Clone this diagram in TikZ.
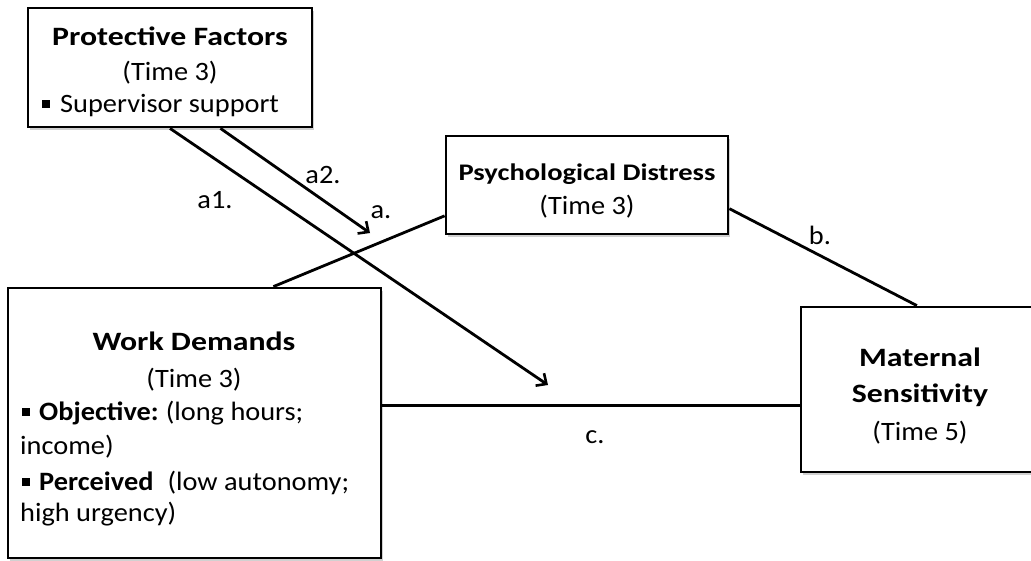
\documentclass[tikz,border=0pt]{standalone}
\usepackage{fontspec}
\setmainfont{Carlito}[FakeStretch=1.07]
\newfontfamily\titlefam{Carlito}[FakeStretch=1.2]
\usetikzlibrary{arrows.meta,calc,shadows}
\newcommand\sqbullet{\raisebox{4pt}{\rule{8pt}{8pt}}}
\begin{document}
\begin{tikzpicture}[x=1pt,y=-1pt,
  box/.style={draw, line width=2.8pt, fill=white, inner sep=0pt,
    drop shadow={shadow xshift=2pt, shadow yshift=-2.5pt, opacity=0.3, fill=black!60}},
  txt/.style={font=\fontsize{26.5}{30}\selectfont, inner sep=0pt, anchor=base},
  btxt/.style={txt, font=\fontsize{26.5}{30}\selectfont\titlefam\bfseries},
  ltxt/.style={txt, anchor=base west},
  lab/.style={font=\fontsize{26.5}{30}\selectfont, inner sep=0pt},
  conn/.style={line width=2.8pt},
  arr/.style={conn, -{Straight Barb[length=8pt,width=15pt,line width=2.6pt]}}
]
\useasboundingbox (0,0) rectangle (1031,560);
\clip (0,0) rectangle (1031,560);
\fill[white] (0,0) rectangle (1031,560);

% boxes
\node[box, minimum width=284pt, minimum height=119pt] (PF) at (170,67.5) {};
\node[box, minimum width=282pt, minimum height=98pt] (PD) at (587,185) {};
\node[box, minimum width=373pt, minimum height=270pt] (WD) at (194.5,423) {};
\node[box, minimum width=238pt, minimum height=165pt] (MS) at (920,389.5) {};

% texts
\node[btxt] (pf1) at (170,45.5) {Protective Factors};
\node[txt] (pf2) at (170,80) {(Time 3)};
\node[ltxt] (pf3) at (42,112) {\sqbullet\hspace{10pt}Supervisor support};

\node[btxt, font=\fontsize{23.8}{28}\selectfont\titlefam\bfseries] (pd1) at (587,180) {Psychological Distress};
\node[txt] (pd2) at (587,214) {(Time 3)};

\node[btxt] (wd1) at (194,350) {Work Demands};
\node[txt] (wd2) at (194,387) {(Time 3)};
\node[ltxt] (wd3) at (22,420) {\sqbullet\hspace{9pt}\textbf{Objective:}\hspace{7pt}(long hours;};
\node[ltxt] (wd4) at (20,454) {income)};
\node[ltxt] (wd5) at (22,490) {\sqbullet\hspace{9pt}\textbf{Perceived}\hspace{14pt}(low autonomy;};
\node[ltxt] (wd6) at (20,521) {high urgency)};

\node[btxt] (ms1) at (920,366) {Maternal};
\node[btxt] (ms2) at (920,402) {Sensitivity};
\node[txt] (ms3) at (920,440) {(Time 5)};

% connectors
\draw[conn] ($(WD.north west)!0.71!(WD.north east)$) -- ($(PD.north west)!0.806!(PD.south west)$);
\draw[conn] ($(PD.north east)!0.735!(PD.south east)$) -- ($(MS.north west)!0.487!(MS.north east)$);
\draw[conn] ($(WD.north east)!0.437!(WD.south east)$) coordinate (cst) -- (cst -| MS.west);
\coordinate (a1tip) at (548,385);
\coordinate (a2tip) at (370,233);
\draw[arr] (PF.south) -- (a1tip);
\draw[arr] ($(PF.south west)!0.676!(PF.south east)$) -- (a2tip);

% labels
\node[lab] (la1) at (215,200) {a1.};
\node[lab] (la2) at (323,175) {a2.};
\node[lab] (la) at (381,212) {a.};
\node[lab] (lb) at (820,235) {b.};
\node[lab] (lc) at (595,437) {c.};
\end{tikzpicture}
\end{document}
